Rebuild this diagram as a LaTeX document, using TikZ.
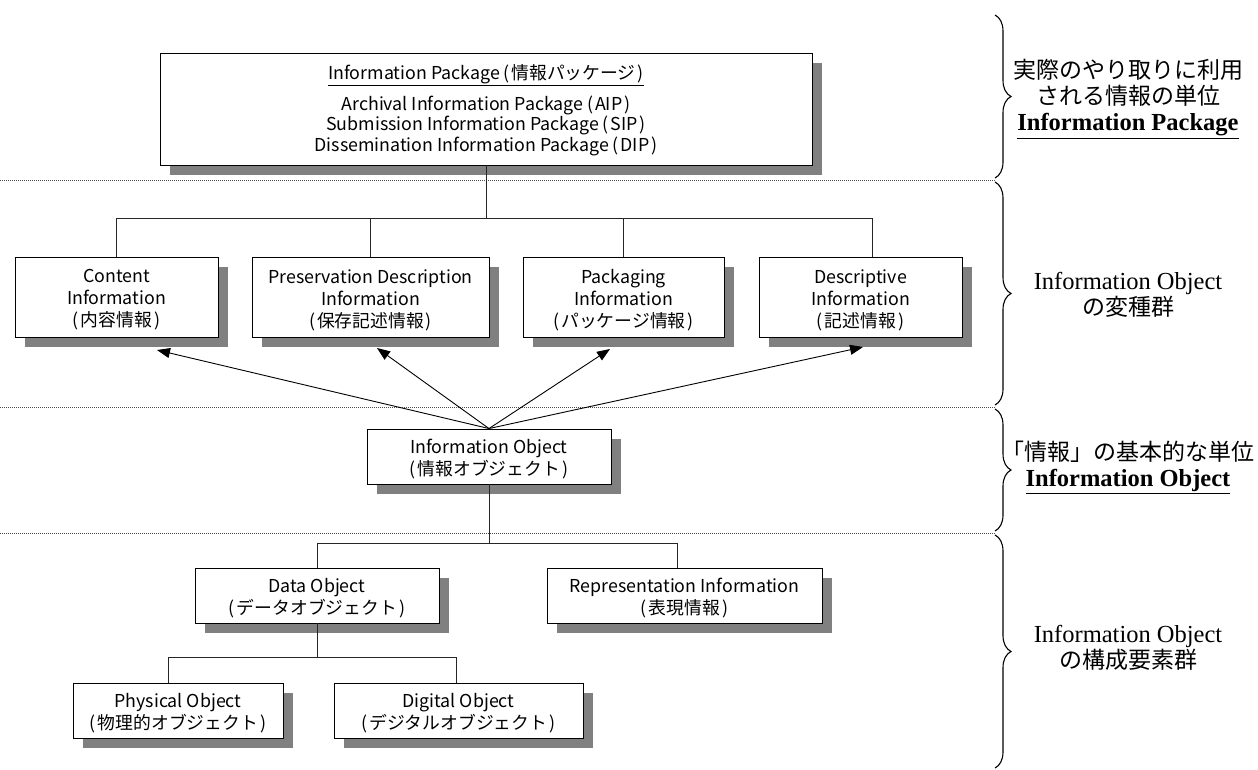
\documentclass[tikz,border=0pt]{standalone}
\usepackage{fontspec}
\setmainfont{Noto Sans CJK JP}
\newfontfamily\latserif{Liberation Serif}
\newcommand\lp{\kern3.5pt(\kern2pt}
\newcommand\rp{\kern2pt)}
\usetikzlibrary{arrows.meta,shadows,decorations.pathreplacing}
\definecolor{shadowgray}{RGB}{128,128,128}

\begin{document}
\begin{tikzpicture}[x=1pt,y=-1pt,
  box/.style={draw=black, line width=0.9pt, fill=white, inner sep=0pt,
    drop shadow={shadow xshift=10pt, shadow yshift=-10pt, opacity=1, fill=shadowgray}},
  boxtext/.style={align=center, inner sep=0pt, font=\fontsize{17.8}{22}\selectfont},
  link/.style={line width=0.9pt, draw=black!85},
  arrowlink/.style={line width=0.9pt, draw=black, -{Triangle[length=13pt,width=10pt]}},
  sep/.style={line width=0.8pt, draw=black!70, dash pattern=on 1pt off 1pt},
  bracket/.style={line width=1.1pt, decorate, decoration={brace, amplitude=16pt}},
  note/.style={align=center, inner sep=0pt, font=\fontsize{23}{26}\selectfont},
]
\useasboundingbox (0,0) rectangle (1258,769);

% layer separators
\draw[sep] (0,180) -- (996,180);
\draw[sep] (0,407) -- (996,407);
\draw[sep] (0,533) -- (996,533);

% braces on the right
\draw[bracket] (995,15) -- (995,178);
\draw[bracket] (995,182) -- (995,405);
\draw[bracket] (995,409) -- (995,531);
\draw[bracket] (995,535) -- (995,768);

% right-hand captions
\node[note] (cap1) at (1128,99) {実際のやり取りに利用\\される情報の単位\\
  {\latserif\bfseries\fontsize{24.5}{26}\selectfont\underline{Information Package}}};
\node[note] (cap2) at (1128,295) {{\latserif\fontsize{24.5}{26}\selectfont Information Object}\\の変種群};
\node[note] (cap3) at (1128,467) {「情報」の基本的な単位\\
  {\latserif\bfseries\fontsize{24.5}{26}\selectfont\underline{Information Object}}};
\node[note] (cap4) at (1128,648) {{\latserif\fontsize{24.5}{26}\selectfont Information Object}\\の構成要素群};

% Information Package
\node[box, minimum width=652pt, minimum height=112pt] (ip) at (486,109) {};
\node[boxtext, font=\fontsize{17.8}{20.5}\selectfont] (ipt) at ([yshift=-1pt]ip.center)
  {\underline{Information Package\lp 情報パッケージ\rp}\\[9pt]
   Archival Information Package\lp AIP\rp\\
   Submission Information Package\lp SIP\rp\\
   Dissemination Information Package\lp DIP\rp};

% Information Object variants
\node[box, minimum width=203pt, minimum height=80pt] (ci) at (116.5,297) {};
\node[boxtext] (cit) at ([yshift=-3pt]ci.center) {Content\\Information\\(\kern2pt 内容情報\rp};
\node[box, minimum width=237pt, minimum height=80pt] (pdi) at (370.5,297) {};
\node[boxtext] (pdit) at ([yshift=-3pt]pdi.center) {Preservation Description\\Information\\(\kern2pt 保存記述情報\rp};
\node[box, minimum width=201pt, minimum height=80pt] (pki) at (623.5,297) {};
\node[boxtext] (pkit) at ([yshift=-3pt]pki.center) {Packaging\\Information\\(\kern2pt パッケージ情報\rp};
\node[box, minimum width=203pt, minimum height=80pt] (dsi) at (860.5,297) {};
\node[boxtext] (dsit) at ([yshift=-3pt]dsi.center) {Descriptive\\Information\\(\kern2pt 記述情報\rp};

% Information Object
\node[box, minimum width=244pt, minimum height=55pt] (io) at (489,456.5) {};
\node[boxtext] (iot) at ([yshift=-3pt]io.center) {Information Object\\(\kern2pt 情報オブジェクト\rp};

% components
\node[box, minimum width=244pt, minimum height=55pt] (do) at (317,595.5) {};
\node[boxtext] (dot) at ([yshift=-3pt]do.center) {Data Object\\(\kern2pt データオブジェクト\rp};
\node[box, minimum width=275pt, minimum height=55pt] (ri) at (684.5,595.5) {};
\node[boxtext] (rit) at ([yshift=-3pt]ri.center) {Representation Information\\(\kern2pt 表現情報\rp};
\node[box, minimum width=210pt, minimum height=55pt] (po) at (178,710.5) {};
\node[boxtext] (pot) at ([yshift=-3pt]po.center) {Physical Object\\(\kern2pt 物理的オブジェクト\rp};
\node[box, minimum width=249pt, minimum height=55pt] (dgo) at (458.5,710.5) {};
\node[boxtext] (dgot) at ([yshift=-3pt]dgo.center) {Digital Object\\(\kern2pt デジタルオブジェクト\rp};

% tree connectors
\coordinate (bus1) at (488,218);
\coordinate (dsdrop) at ([xshift=12pt]dsi.north);
\draw[link] (ip.south) -- (ip.south |- bus1);
\draw[link] (ci.north) -- (ci.north |- bus1) -- (dsdrop |- bus1) -- (dsdrop);
\draw[link] (pdi.north) -- (pdi.north |- bus1);
\draw[link] (pki.north) -- (pki.north |- bus1);

\coordinate (bus2) at (489,543);
\coordinate (ridrop) at ([xshift=-7.5pt]ri.north);
\draw[link] (io.south) -- (io.south |- bus2);
\draw[link] (do.north) -- (do.north |- bus2) -- (ridrop |- bus2) -- (ridrop);

\coordinate (bus3) at (317,657);
\coordinate (podrop) at ([xshift=-10pt]po.north);
\coordinate (dgodrop) at ([xshift=-2.5pt]dgo.north);
\draw[link] (do.south) -- (do.south |- bus3);
\draw[link] (podrop) -- (podrop |- bus3) -- (dgodrop |- bus3) -- (dgodrop);

% derivation arrows
\coordinate (tipci) at (157,350);
\coordinate (tippdi) at (377,348);
\coordinate (tippki) at (610,349);
\coordinate (tipdsi) at (863,347);
\draw[arrowlink] (io.north) -- (tipci);
\draw[arrowlink] (io.north) -- (tippdi);
\draw[arrowlink] (io.north) -- (tippki);
\draw[arrowlink] (io.north) -- (tipdsi);
\end{tikzpicture}
\end{document}
